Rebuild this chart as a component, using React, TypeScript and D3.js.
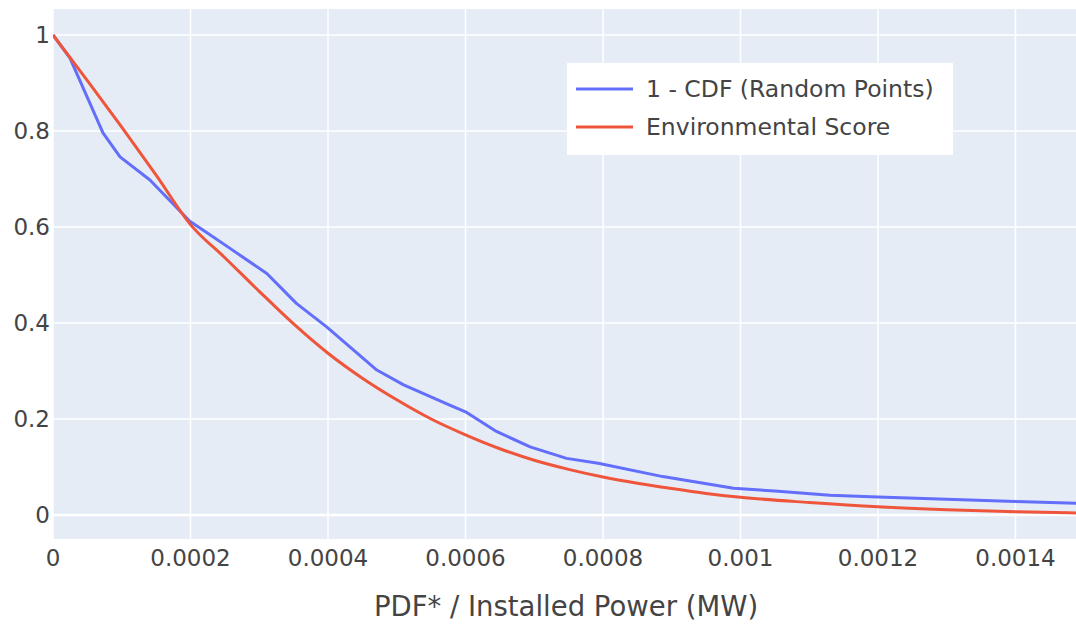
import React, { useEffect } from "react";
import * as d3 from "d3";

const blueX = [0, 0.0000247, 0.0000727, 0.0000975, 0.000141, 0.000199, 0.000224, 0.000257, 0.000311, 0.000354, 0.000398, 0.000471, 0.00051, 0.000577, 0.0006, 0.000645, 0.000694, 0.000747, 0.000793, 0.000887, 0.00099, 0.00105, 0.00113, 0.0012, 0.0014, 0.0015];
const blueY = [1.0, 0.952, 0.796, 0.746, 0.698, 0.612, 0.588, 0.556, 0.503, 0.441, 0.392, 0.302, 0.271, 0.229, 0.215, 0.174, 0.142, 0.118, 0.108, 0.08, 0.0556, 0.05, 0.041, 0.0375, 0.028, 0.024];

const redX = [0, 0.00005, 0.0001, 0.00015, 0.0002, 0.00025, 0.0003, 0.00035, 0.0004, 0.00045, 0.0005, 0.00055, 0.0006, 0.00065, 0.0007, 0.00075, 0.0008, 0.00085, 0.0009, 0.00095, 0.001, 0.0011, 0.0012, 0.0013, 0.0014, 0.0015];
const redY = [1.0, 0.905, 0.808, 0.708, 0.605, 0.536, 0.466, 0.398, 0.337, 0.285, 0.24, 0.2, 0.167, 0.138, 0.114, 0.095, 0.079, 0.066, 0.055, 0.045, 0.037, 0.026, 0.017, 0.011, 0.007, 0.004];

const xTicks = [0, 0.0002, 0.0004, 0.0006, 0.0008, 0.001, 0.0012, 0.0014];
const xTickLabels = ["0", "0.0002", "0.0004", "0.0006", "0.0008", "0.001", "0.0012", "0.0014"];
const yTicks = [0, 0.2, 0.4, 0.6, 0.8, 1];
const yTickLabels = ["0", "0.2", "0.4", "0.6", "0.8", "1"];

const seriesNames = ["1 - CDF (Random Points)", "Environmental Score"];
const seriesColors = ["#636EFA", "#EF553B"];

const W = 1076;
const H = 627;
const plotLeft = 53;
const plotRight = 1076;
const plotTop = 9;
const plotBottom = 539;
const FONT = "'DejaVu Sans', Verdana, sans-serif";

export default function App() {
  useEffect(() => {
    document.body.style.margin = "0";
  }, []);

  const x = d3.scaleLinear().domain([0, 0.0015]).range([plotLeft, plotLeft + 7.5 * 137.5]);
  const y = d3.scaleLinear().domain([0, 1]).range([515, 35]);

  const lineLinear = d3
    .line<[number, number]>()
    .x((d) => x(d[0]))
    .y((d) => y(d[1]));
  const lineSmooth = d3
    .line<[number, number]>()
    .x((d) => x(d[0]))
    .y((d) => y(d[1]))
    .curve(d3.curveMonotoneX);

  const blue: [number, number][] = blueX.map((v, i) => [v, blueY[i]]);
  const red: [number, number][] = redX.map((v, i) => [v, redY[i]]);
  const paths = [lineLinear(blue) || "", lineSmooth(red) || ""];

  return (
    <svg width={W} height={H} style={{ display: "block", background: "#fff" }} fontFamily={FONT}>
      <defs>
        <clipPath id="plotclip">
          <rect x={plotLeft} y={plotTop} width={plotRight - plotLeft} height={plotBottom - plotTop} />
        </clipPath>
      </defs>
      <rect x={plotLeft} y={plotTop} width={plotRight - plotLeft} height={plotBottom - plotTop} fill="#E5ECF6" />
      {xTicks.map((t, i) => (
        <line key={"gx" + i} x1={x(t)} x2={x(t)} y1={plotTop} y2={plotBottom} stroke="#fff" strokeWidth={1.5} />
      ))}
      {yTicks.map((t, i) => (
        <line key={"gy" + i} x1={plotLeft} x2={plotRight} y1={y(t)} y2={y(t)} stroke="#fff" strokeWidth={t === 0 ? 2.5 : 1.5} />
      ))}
      <g clipPath="url(#plotclip)">
        {paths.map((p, i) => (
          <path key={"s" + i} d={p} fill="none" stroke={seriesColors[i]} strokeWidth={3} strokeLinejoin="round" />
        ))}
      </g>
      {xTicks.map((t, i) => (
        <text key={"tx" + i} x={x(t)} y={566} textAnchor="middle" fontSize={23} fill="#444">
          {xTickLabels[i]}
        </text>
      ))}
      {yTicks.map((t, i) => (
        <text key={"ty" + i} x={50} y={y(t)} dy="0.35em" textAnchor="end" fontSize={23} fill="#444">
          {yTickLabels[i]}
        </text>
      ))}
      <text x={566} y={616} textAnchor="middle" fontSize={27.5} fill="#444">
        PDF* / Installed Power (MW)
      </text>
      <g>
        <rect x={567} y={63} width={386} height={92} fill="#fff" />
        {seriesNames.map((n, i) => (
          <g key={"lg" + i}>
            <line x1={576} x2={633} y1={89 + i * 38} y2={89 + i * 38} stroke={seriesColors[i]} strokeWidth={3} />
            <text x={646} y={89 + i * 38} dy="0.35em" fontSize={23.5} fill="#444">
              {n}
            </text>
          </g>
        ))}
      </g>
    </svg>
  );
}
